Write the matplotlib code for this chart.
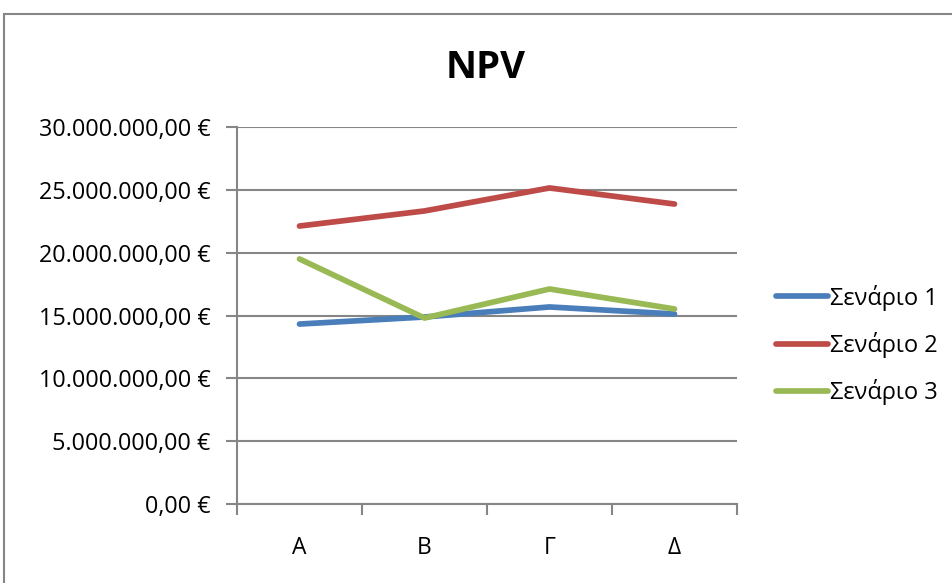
import matplotlib.pyplot as plt
import matplotlib.patches as patches
from matplotlib.ticker import FixedLocator, FuncFormatter

plt.rcParams['font.family'] = ['Open Sans', 'DejaVu Sans']

kategories = ['Α', 'Β', 'Γ', 'Δ']
senario_1 = [14.32e6, 14.88e6, 15.68e6, 15.12e6]
senario_2 = [22.12e6, 23.32e6, 25.15e6, 23.87e6]
senario_3 = [19.50e6, 14.80e6, 17.11e6, 15.52e6]
onomata = ['Σενάριο 1', 'Σενάριο 2', 'Σενάριο 3']
xromata = ['#4A7EBB', '#BE4B48', '#98B954']

fig = plt.figure(figsize=(9.53, 5.83), dpi=100)
ax = fig.add_axes([237 / 953, 79 / 583, 500 / 953, 377 / 583])

x = [i + 0.5 for i in range(len(kategories))]
for y, onoma, c in zip([senario_1, senario_2, senario_3], onomata, xromata):
    ax.plot(x, y, color=c, linewidth=4.1, label=onoma, solid_capstyle='round')

def euro(v, pos):
    s = f'{v:,.2f}'.replace(',', 'X').replace('.', ',').replace('X', '.')
    return s + ' €'

ax.set_xlim(0, 4)
ax.set_ylim(0, 30e6)
ax.yaxis.set_major_locator(FixedLocator([i * 5e6 for i in range(7)]))
ax.yaxis.set_major_formatter(FuncFormatter(euro))
ax.xaxis.set_major_locator(FixedLocator([0, 1, 2, 3, 4]))
ax.xaxis.set_minor_locator(FixedLocator(x))
ax.set_xticklabels([], minor=False)
ax.set_xticklabels(kategories, minor=True)
ax.tick_params(axis='x', which='minor', length=0, pad=23, labelsize=16.5)
ax.tick_params(axis='x', which='major', length=8, width=1.5, color='#868686')
ax.tick_params(axis='y', length=8, width=1.5, color='#868686', labelsize=16.8, pad=11)

ax.grid(axis='y', color='#868686', linewidth=1.5)
ax.set_axisbelow(True)
for s in ['top', 'right']:
    ax.spines[s].set_visible(False)
for s in ['left', 'bottom']:
    ax.spines[s].set_color('#868686')
    ax.spines[s].set_linewidth(1.5)

fig.text(486 / 953, 1 - 68 / 583, 'NPV', ha='center', va='center',
         fontsize=27.5, fontweight='bold')

ax.legend(loc='center left', bbox_to_anchor=(776 / 953, 1 - 345 / 583),
          bbox_transform=fig.transFigure, frameon=False, fontsize=17,
          borderpad=0, borderaxespad=0,
          handlelength=2.2, handletextpad=0.1, labelspacing=0.9)

fig.patches.append(patches.Rectangle((4 / 953, -0.1), 1.2, 1 - 14 / 583 + 0.1,
                                     transform=fig.transFigure, fill=False,
                                     edgecolor='#868686', linewidth=1.5))

fig.savefig('out.png', dpi=100)
